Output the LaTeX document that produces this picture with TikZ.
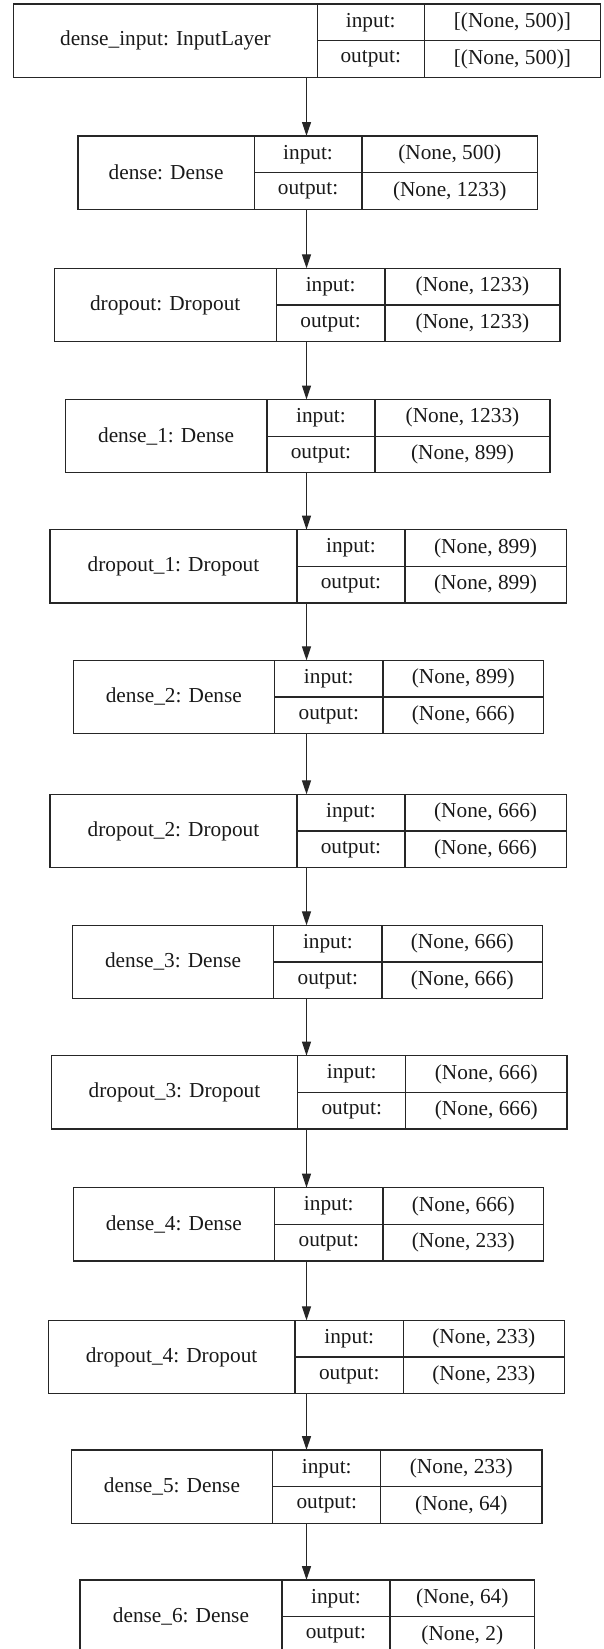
\documentclass[tikz,border=0pt]{standalone}
\usepackage{fontspec}
\setmainfont{Liberation Serif}
\usetikzlibrary{arrows.meta}

\tikzset{
  cell/.style={draw=black!85, line width=1.2pt, rectangle, inner sep=0pt, text=black!90, font=\fontsize{21.3}{24}\selectfont},
  flow/.style={draw=black!85, line width=1.2pt, -{Triangle[length=14pt,width=9pt]}}
}

\begin{document}
\begin{tikzpicture}[x=1pt,y=-1pt]
\useasboundingbox (0,0) rectangle (603,1649);
\clip (0,0) rectangle (603,1649);
% layers: number / left / first split / second split / right / top / name / input / output
\foreach \i/\xl/\xa/\xb/\xr/\yt/\name/\vin/\vout in {
  1/13.5/317.3/424.2/600.7/4/{dense\_input: InputLayer}/{[(None, 500)]}/{[(None, 500)]},
  2/78/254.2/361.9/537.7/136/{dense: Dense}/{(None, 500)}/{(None, 1233)},
  3/54.2/276.2/385/560/268.3/{dropout: Dropout}/{(None, 1233)}/{(None, 1233)},
  4/65.4/266.9/375/550/399.5/{dense\_1: Dense}/{(None, 1233)}/{(None, 899)},
  5/50/296.9/405/566.2/529.7/{dropout\_1: Dropout}/{(None, 899)}/{(None, 899)},
  6/73.1/274.6/383/543.5/660.3/{dense\_2: Dense}/{(None, 899)}/{(None, 666)},
  7/50/296.9/405/566.2/794.3/{dropout\_2: Dropout}/{(None, 666)}/{(None, 666)},
  8/72.3/273.8/381.9/542.7/925.3/{dense\_3: Dense}/{(None, 666)}/{(None, 666)},
  9/51.2/297.7/405.8/566.9/1055.7/{dropout\_3: Dropout}/{(None, 666)}/{(None, 666)},
  10/73.1/274.6/383/543.5/1187.7/{dense\_4: Dense}/{(None, 666)}/{(None, 233)},
  11/48.1/295/403.5/564.2/1320.3/{dropout\_4: Dropout}/{(None, 233)}/{(None, 233)},
  12/71.2/272.7/380.8/541.9/1450/{dense\_5: Dense}/{(None, 233)}/{(None, 64)},
  13/80/281.9/390/534.6/1580/{dense\_6: Dense}/{(None, 64)}/{(None, 2)}}{
    \pgfmathsetmacro\wn{\xa-\xl}
    \pgfmathsetmacro\wl{\xb-\xa}
    \pgfmathsetmacro\wv{\xr-\xb}
    \node[cell, minimum width=\wn pt, minimum height=73.3pt] (n\i) at ({(\xl+\xa)/2},{\yt+36.65}) {\name};
    \node[cell, minimum width=\wl pt, minimum height=36.65pt] (li\i) at ({(\xa+\xb)/2},{\yt+18.33}) {input:};
    \node[cell, minimum width=\wl pt, minimum height=36.65pt] (lo\i) at ({(\xa+\xb)/2},{\yt+54.98}) {output:};
    \node[cell, minimum width=\wv pt, minimum height=36.65pt] (vi\i) at ({(\xb+\xr)/2},{\yt+18.33}) {\vin};
    \node[cell, minimum width=\wv pt, minimum height=36.65pt] (vo\i) at ({(\xb+\xr)/2},{\yt+54.98}) {\vout};
    \coordinate (t\i) at (306.5,\yt);
    \coordinate (b\i) at (306.5,{\yt+73.3});
}
\foreach \i [evaluate=\i as \j using int(\i+1)] in {1,...,12}{
    \draw[flow] (b\i) -- (t\j);
}
\end{tikzpicture}
\end{document}
